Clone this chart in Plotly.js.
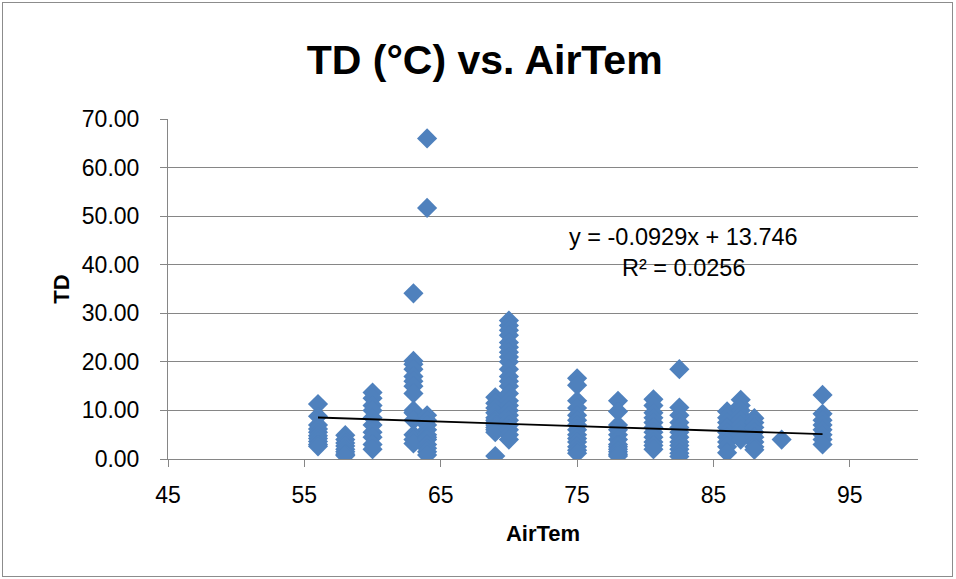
<!DOCTYPE html>
<html>
<head>
<meta charset="utf-8">
<script src="https://cdn.plot.ly/plotly-3.0.1.min.js"></script>
<style>
  html, body { margin: 0; padding: 0; background: #fff; }
  #wrap { position: relative; width: 956px; height: 579px; }
  #chart { width: 956px; height: 579px; }
  #frame { position: absolute; left: 2px; top: 2px; width: 949px; height: 573px;
           border: 1px solid #8c8c8c; pointer-events: none; }
</style>
</head>
<body>
<div id="wrap"><div id="chart"></div><div id="frame"></div></div>
<script>
// Air temperature groups (x) and TD (°C) readings at each air temperature (y)
const airGroups = [56, 58, 60, 63, 64, 69, 70, 75, 78, 80.6, 82.5, 86, 87, 88, 90, 93];
const td56 = [11.3, 8.8, 7.0, 6.2, 5.5, 4.8, 4.2, 3.6, 3.0, 2.6];
const td58 = [4.9, 4.0, 3.3, 2.7, 2.0, 1.5, 1.0, 0.7];
const td60 = [13.7, 12.5, 11.0, 10.0, 8.5, 7.0, 5.5, 4.5, 3.0, 2.0];
const td63 = [34.1, 20.2, 19.5, 18.5, 17.0, 16.0, 15.0, 13.5, 10.0, 9.5, 8.0, 5.0, 4.0, 3.2];
const td64 = [66.0, 51.7, 9.0, 8.0, 7.0, 6.0, 5.0, 4.5, 4.0, 3.0, 2.2, 1.5, 0.8];
const td69 = [12.7, 11.5, 10.5, 9.5, 8.5, 8.0, 7.5, 7.0, 6.5, 6.0, 5.5, 0.6];
const td70 = [28.5, 27.5, 26.5, 25.5, 24.0, 23.0, 22.0, 21.0, 20.0, 18.5, 17.0, 16.0, 15.0, 13.5, 12.0, 11.0, 10.0, 9.0, 8.0, 7.0, 6.0, 5.0, 4.0];
const td75 = [16.6, 15.2, 12.0, 10.5, 9.0, 8.0, 7.0, 6.0, 5.0, 4.2, 3.5, 2.5, 1.8, 1.2];
const td78 = [12.0, 9.8, 7.0, 6.0, 5.0, 4.0, 3.0, 2.5, 2.0, 1.5, 1.0, 0.6];
const td80 = [12.3, 11.0, 9.5, 8.5, 7.5, 6.5, 5.5, 4.5, 3.5, 2.8, 2.0];
const td82 = [18.5, 10.6, 9.0, 7.5, 6.5, 5.5, 4.5, 3.5, 2.8, 2.0, 1.2, 0.5];
const td86 = [9.8, 8.5, 7.5, 6.5, 5.5, 4.5, 3.5, 2.5, 1.3];
const td87 = [12.2, 11.0, 10.0, 9.0, 8.0, 7.0, 6.0, 5.0, 4.0];
const td88 = [8.4, 7.5, 6.5, 5.5, 4.5, 3.5, 2.5, 1.9];
const td90 = [4.0];
const td93 = [13.2, 9.3, 8.0, 7.0, 6.0, 5.0, 4.0, 3.0];
const tdGroups = [td56, td58, td60, td63, td64, td69, td70, td75, td78, td80, td82, td86, td87, td88, td90, td93];

// Linear trendline as shown on the chart
const trendSlope = -0.0929;
const trendIntercept = 13.746;
const trendLabel = "y = -0.0929x + 13.746";
const r2Label = "R² = 0.0256";
const yTickVals = [0, 10, 20, 30, 40, 50, 60, 70];
const xTickVals = [45, 55, 65, 75, 85, 95];

const airTem = [], td = [];
airGroups.forEach((a, i) => tdGroups[i].forEach(v => { airTem.push(a); td.push(v); }));
const xMin = Math.min(...airTem), xMax = Math.max(...airTem);

const blue = '#4F81BD';
const gridCol = '#868686';
const font = 'Liberation Sans, Arial, sans-serif';

const traces = [
  { type: 'scatter', mode: 'markers', x: airTem, y: td,
    marker: { symbol: 'diamond', size: 15.5, color: blue, line: { width: 0 } },
    showlegend: false, hoverinfo: 'x+y' },
  { type: 'scatter', mode: 'lines', x: [xMin, xMax],
    y: [trendSlope * xMin + trendIntercept, trendSlope * xMax + trendIntercept],
    line: { color: '#000', width: 1.8 }, showlegend: false, hoverinfo: 'skip' }
];

const layout = {
  width: 956, height: 579,
  margin: { l: 168, r: 38, t: 119, b: 120 },
  paper_bgcolor: '#fff', plot_bgcolor: '#fff',
  font: { family: font, size: 23, color: '#000' },
  title: { text: '<b>TD (°C) vs. AirTem</b>', font: { family: font, size: 41, color: '#000' },
           x: 0.507, xref: 'container', xanchor: 'center', y: 0.897, yref: 'container', yanchor: 'middle' },
  xaxis: {
    range: [45, 100], tickvals: xTickVals, ticktext: xTickVals.map(String),
    showgrid: false, zeroline: false, showline: true, linecolor: gridCol, linewidth: 1,
    ticks: 'outside', ticklen: 7, tickcolor: gridCol, tickfont: { size: 23 },
    ticklabelstandoff: 8,
    title: { text: '<b>AirTem</b>', font: { size: 22 }, standoff: 19 }
  },
  yaxis: {
    range: [0, 70], tickvals: yTickVals, ticktext: yTickVals.map(v => v.toFixed(2)),
    showgrid: true, gridcolor: gridCol, gridwidth: 1, zeroline: false,
    showline: true, linecolor: gridCol, linewidth: 1,
    ticks: 'outside', ticklen: 7, tickcolor: gridCol, tickfont: { size: 23 },
    ticklabelstandoff: 16,
    title: { text: '<b>TD</b>', font: { size: 22 }, standoff: 6 }
  },
  annotations: [
    { xref: 'x', yref: 'y', x: 82.8, y: 45.7, text: trendLabel, showarrow: false,
      font: { size: 23.5 }, xanchor: 'center', yanchor: 'middle' },
    { xref: 'x', yref: 'y', x: 82.8, y: 39.3, text: r2Label, showarrow: false,
      font: { size: 23.5 }, xanchor: 'center', yanchor: 'middle' }
  ]
};

Plotly.newPlot('chart', traces, layout, { displayModeBar: false, staticPlot: true });
</script>
</body>
</html>
